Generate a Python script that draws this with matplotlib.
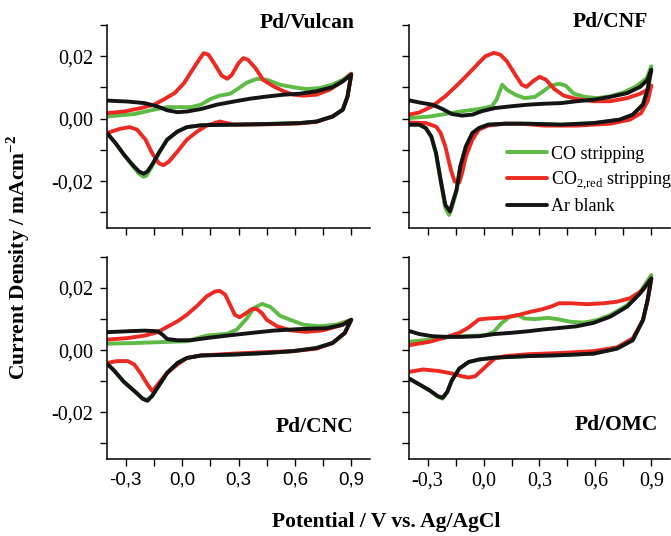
import matplotlib
matplotlib.use("Agg")
import matplotlib.pyplot as plt
from matplotlib.ticker import MultipleLocator, FuncFormatter, NullFormatter

# ---------------- data (E in V vs Ag/AgCl, j in mA cm^-2) ----------------
# Pd/Vulcan
vul_co_E = [-0.40, -0.255, -0.15, -0.08, -0.01, 0.045, 0.10, 0.15, 0.20, 0.255, 0.29, 0.345, 0.40, 0.45, 0.52, 0.59, 0.66, 0.73, 0.80, 0.855, 0.90,
            0.88, 0.855, 0.80, 0.715, 0.625, 0.45, 0.275, 0.10, 0.025, -0.025, -0.08, -0.125, -0.16, -0.19, -0.205, -0.23, -0.265, -0.31, -0.355, -0.40]
vul_co_j = [0.0007, 0.0015, 0.0029, 0.0037, 0.0037, 0.0037, 0.0045, 0.0063, 0.0074, 0.0080, 0.0093, 0.0116, 0.0128, 0.0125, 0.0109, 0.0101, 0.0095, 0.0098, 0.0109, 0.0125, 0.0144,
            0.0071, 0.0029, 0.0007, -0.0009, -0.0014, -0.0017, -0.0019, -0.0021, -0.0027, -0.0041, -0.0067, -0.0112, -0.0152, -0.0182, -0.0186, -0.0176, -0.0150, -0.0115, -0.0078, -0.0046]
vul_co2_E = [-0.40, -0.31, -0.22, -0.15, -0.10, -0.04, 0.01, 0.05, 0.09, 0.115, 0.14, 0.175, 0.21, 0.24, 0.265, 0.30, 0.325, 0.35, 0.39, 0.43, 0.485, 0.54, 0.59, 0.645, 0.715, 0.785, 0.855, 0.90,
             0.88, 0.855, 0.80, 0.715, 0.625, 0.45, 0.275, 0.20, 0.13, 0.08, 0.025, -0.025, -0.07, -0.10, -0.125, -0.16, -0.195, -0.24, -0.28, -0.335, -0.40]
vul_co2_j = [0.0018, 0.0023, 0.0034, 0.0045, 0.0061, 0.0082, 0.0114, 0.0152, 0.0189, 0.0210, 0.0205, 0.0173, 0.0138, 0.0128, 0.0141, 0.0178, 0.0194, 0.0189, 0.0162, 0.0125, 0.0104, 0.0088, 0.0077, 0.0074, 0.0077, 0.0093, 0.0120, 0.0144,
             0.0071, 0.0029, 0.0007, -0.0010, -0.0015, -0.0018, -0.0019, -0.0009, -0.0022, -0.0041, -0.0067, -0.0105, -0.0137, -0.0149, -0.0142, -0.0110, -0.0067, -0.0035, -0.0027, -0.0033, -0.0046]
vul_ar_E = [-0.40, -0.29, -0.20, -0.13, -0.08, -0.025, 0.025, 0.10, 0.185, 0.275, 0.36, 0.45, 0.54, 0.625, 0.715, 0.80, 0.855, 0.90,
            0.88, 0.855, 0.80, 0.715, 0.625, 0.45, 0.275, 0.10, 0.025, -0.025, -0.08, -0.125, -0.16, -0.185, -0.205, -0.23, -0.265, -0.31, -0.355, -0.40]
vul_ar_j = [0.0058, 0.0055, 0.0050, 0.0039, 0.0027, 0.0021, 0.0023, 0.0031, 0.0045, 0.0055, 0.0064, 0.0071, 0.0077, 0.0080, 0.0088, 0.0101, 0.0120, 0.0141,
            0.0071, 0.0029, 0.0007, -0.0009, -0.0014, -0.0017, -0.0019, -0.0021, -0.0027, -0.0041, -0.0067, -0.0110, -0.0147, -0.0169, -0.0176, -0.0169, -0.0147, -0.0115, -0.0078, -0.0046]

# Pd/CNF
cnf_co_E = [-0.40, -0.29, -0.205, -0.115, -0.025, 0.045, 0.07, 0.10, 0.125, 0.17, 0.22, 0.275, 0.32, 0.36, 0.405, 0.44, 0.485, 0.54, 0.61, 0.68, 0.75, 0.82, 0.875, 0.90,
            0.88, 0.855, 0.80, 0.73, 0.59, 0.415, 0.24, 0.115, 0.025, -0.025, -0.06, -0.095, -0.125, -0.145, -0.17, -0.185, -0.205, -0.23, -0.255, -0.28, -0.31, -0.345, -0.40]
cnf_co_j = [0.0002, 0.0007, 0.0015, 0.0024, 0.0031, 0.0040, 0.0061, 0.0109, 0.0093, 0.0077, 0.0066, 0.0070, 0.0088, 0.0106, 0.0112, 0.0106, 0.0080, 0.0070, 0.0066, 0.0072, 0.0084, 0.0104, 0.0130, 0.0168,
            0.0098, 0.0047, 0.0013, -0.0003, -0.0014, -0.0019, -0.0016, -0.0016, -0.0019, -0.0030, -0.0046, -0.0089, -0.0155, -0.0232, -0.0285, -0.0308, -0.0285, -0.0200, -0.0112, -0.0058, -0.0030, -0.0019, -0.0019]
cnf_co2_E = [-0.40, -0.345, -0.275, -0.205, -0.13, -0.06, -0.025, 0.01, 0.055, 0.09, 0.125, 0.17, 0.205, 0.23, 0.265, 0.30, 0.335, 0.38, 0.43, 0.50, 0.59, 0.68, 0.77, 0.84, 0.88, 0.90,
             0.88, 0.845, 0.785, 0.68, 0.50, 0.325, 0.205, 0.115, 0.025, -0.025, -0.06, -0.095, -0.115, -0.13, -0.155, -0.175, -0.205, -0.23, -0.255, -0.31, -0.40]
cnf_co2_j = [0.0013, 0.0020, 0.0040, 0.0072, 0.0114, 0.0157, 0.0179, 0.0200, 0.0211, 0.0205, 0.0184, 0.0141, 0.0109, 0.0102, 0.0120, 0.0134, 0.0125, 0.0095, 0.0074, 0.0063, 0.0056, 0.0056, 0.0066, 0.0080, 0.0093, 0.0106,
             0.0056, 0.0018, -0.0003, -0.0016, -0.0022, -0.0022, -0.0016, -0.0016, -0.0022, -0.0035, -0.0067, -0.0121, -0.0174, -0.0204, -0.0201, -0.0164, -0.0089, -0.0046, -0.0025, -0.0014, -0.0012]
cnf_ar_E = [-0.40, -0.345, -0.275, -0.22, -0.17, -0.115, -0.06, -0.01, 0.06, 0.15, 0.24, 0.325, 0.415, 0.50, 0.59, 0.68, 0.77, 0.84, 0.88, 0.90,
            0.88, 0.855, 0.80, 0.73, 0.59, 0.415, 0.24, 0.115, 0.025, -0.025, -0.06, -0.095, -0.125, -0.145, -0.17, -0.18, -0.205, -0.23, -0.255, -0.28, -0.31, -0.345, -0.40]
cnf_ar_j = [0.0059, 0.0052, 0.0045, 0.0031, 0.0015, 0.0010, 0.0013, 0.0024, 0.0034, 0.0040, 0.0045, 0.0048, 0.0050, 0.0056, 0.0061, 0.0070, 0.0082, 0.0102, 0.0125, 0.0157,
            0.0093, 0.0045, 0.0013, -0.0003, -0.0014, -0.0019, -0.0016, -0.0016, -0.0019, -0.0030, -0.0046, -0.0089, -0.0153, -0.0228, -0.0276, -0.0297, -0.0276, -0.0196, -0.0110, -0.0057, -0.0030, -0.0019, -0.0019]

# Pd/CNC
cnc_co_E = [-0.40, -0.255, -0.115, 0.025, 0.13, 0.24, 0.29, 0.345, 0.38, 0.425, 0.47, 0.52, 0.575, 0.645, 0.73, 0.82, 0.90,
            0.865, 0.80, 0.715, 0.59, 0.45, 0.275, 0.10, 0.025, -0.025, -0.08, -0.125, -0.16, -0.19, -0.21, -0.255, -0.31, -0.36, -0.40]
cnc_co_j = [0.0021, 0.0023, 0.0026, 0.0029, 0.0047, 0.0053, 0.0066, 0.0103, 0.0135, 0.0149, 0.0139, 0.0111, 0.0098, 0.0082, 0.0077, 0.0082, 0.0098,
            0.0055, 0.0023, 0.0007, -0.0003, -0.0009, -0.0014, -0.0017, -0.0025, -0.0041, -0.0073, -0.0115, -0.0148, -0.0160, -0.0157, -0.0131, -0.0102, -0.0067, -0.0043]
cnc_co2_E = [-0.40, -0.29, -0.20, -0.13, -0.08, -0.025, 0.025, 0.08, 0.13, 0.175, 0.20, 0.23, 0.255, 0.28, 0.305, 0.335, 0.37, 0.395, 0.425, 0.45, 0.505, 0.575, 0.66, 0.75, 0.84, 0.90,
             0.865, 0.80, 0.715, 0.59, 0.45, 0.275, 0.10, 0.025, -0.025, -0.08, -0.115, -0.15, -0.16, -0.185, -0.22, -0.255, -0.29, -0.345, -0.40]
cnc_co2_j = [0.0034, 0.0039, 0.0047, 0.0058, 0.0075, 0.0093, 0.0114, 0.0143, 0.0173, 0.0189, 0.0191, 0.0178, 0.0146, 0.0114, 0.0106, 0.0117, 0.0132, 0.0133, 0.0119, 0.0098, 0.0077, 0.0064, 0.0059, 0.0064, 0.0079, 0.0098,
             0.0055, 0.0023, 0.0005, -0.0003, -0.0006, -0.0011, -0.0017, -0.0025, -0.0046, -0.0073, -0.0099, -0.0126, -0.0131, -0.0110, -0.0075, -0.0046, -0.0035, -0.0035, -0.0041]
cnc_ar_E = [-0.40, -0.29, -0.20, -0.13, -0.105, -0.08, -0.025, 0.045, 0.13, 0.24, 0.36, 0.485, 0.625, 0.77, 0.855, 0.90,
            0.865, 0.80, 0.715, 0.59, 0.45, 0.275, 0.10, 0.025, -0.025, -0.08, -0.125, -0.16, -0.185, -0.21, -0.255, -0.31, -0.36, -0.40]
cnc_ar_j = [0.0058, 0.0061, 0.0063, 0.0061, 0.0050, 0.0036, 0.0032, 0.0032, 0.0039, 0.0047, 0.0055, 0.0063, 0.0068, 0.0071, 0.0082, 0.0098,
            0.0055, 0.0023, 0.0007, -0.0003, -0.0009, -0.0014, -0.0017, -0.0025, -0.0041, -0.0073, -0.0115, -0.0147, -0.0163, -0.0156, -0.0131, -0.0102, -0.0067, -0.0043]

# Pd/OMC
omc_co_E = [-0.40, -0.29, -0.205, -0.115, 0.01, 0.055, 0.095, 0.14, 0.185, 0.22, 0.275, 0.345, 0.395, 0.47, 0.54, 0.61, 0.68, 0.77, 0.84, 0.90,
            0.88, 0.855, 0.80, 0.715, 0.59, 0.415, 0.24, 0.06, -0.025, -0.08, -0.13, -0.17, -0.195, -0.22, -0.245, -0.29, -0.345, -0.40]
omc_co_j = [0.0027, 0.0034, 0.0041, 0.0045, 0.0048, 0.0059, 0.0086, 0.0108, 0.0113, 0.0102, 0.0100, 0.0104, 0.0100, 0.0091, 0.0089, 0.0097, 0.0113, 0.0145, 0.0188, 0.0242,
            0.0161, 0.0097, 0.0032, 0.0005, -0.0011, -0.0016, -0.0019, -0.0024, -0.0030, -0.0038, -0.0059, -0.0097, -0.0136, -0.0156, -0.0150, -0.0129, -0.0110, -0.0091]
omc_co2_E = [-0.40, -0.29, -0.205, -0.13, -0.08, -0.025, 0.025, 0.115, 0.185, 0.255, 0.31, 0.36, 0.405, 0.47, 0.555, 0.645, 0.715, 0.785, 0.855, 0.90,
             0.88, 0.855, 0.80, 0.715, 0.59, 0.415, 0.24, 0.115, 0.06, 0.025, -0.01, -0.045, -0.08, -0.115, -0.17, -0.24, -0.325, -0.40]
omc_co2_j = [0.0016, 0.0027, 0.0041, 0.0056, 0.0073, 0.0099, 0.0102, 0.0105, 0.0113, 0.0124, 0.0131, 0.0140, 0.0151, 0.0151, 0.0148, 0.0151, 0.0156, 0.0167, 0.0194, 0.0231,
             0.0161, 0.0097, 0.0038, 0.0009, -0.0003, -0.0009, -0.0013, -0.0019, -0.0027, -0.0045, -0.0065, -0.0084, -0.0088, -0.0084, -0.0075, -0.0067, -0.0062, -0.0070]
omc_ar_E = [-0.40, -0.345, -0.275, -0.205, -0.115, -0.025, 0.06, 0.15, 0.24, 0.325, 0.415, 0.50, 0.59, 0.68, 0.77, 0.84, 0.90,
            0.88, 0.855, 0.80, 0.715, 0.59, 0.415, 0.24, 0.06, -0.025, -0.08, -0.13, -0.17, -0.195, -0.22, -0.245, -0.29, -0.345, -0.40]
omc_ar_j = [0.0062, 0.0052, 0.0045, 0.0043, 0.0043, 0.0045, 0.0052, 0.0056, 0.0061, 0.0067, 0.0072, 0.0077, 0.0088, 0.0108, 0.0140, 0.0183, 0.0231,
            0.0161, 0.0097, 0.0032, 0.0005, -0.0011, -0.0016, -0.0019, -0.0024, -0.0030, -0.0038, -0.0059, -0.0097, -0.0134, -0.0153, -0.0148, -0.0129, -0.0110, -0.0091]

panel_titles = ["Pd/Vulcan", "Pd/CNF", "Pd/CNC", "Pd/OMC"]
series_labels = ["CO stripping", "CO$_{\\mathregular{2{,}red}}$ stripping", "Ar blank"]
series_colors = ["#5dbb46", "#ec2a22", "#141414"]
x_ticks_major = [-0.3, 0.0, 0.3, 0.6, 0.9]

panels = [
    (vul_co_E, vul_co_j, vul_co2_E, vul_co2_j, vul_ar_E, vul_ar_j),
    (cnf_co_E, cnf_co_j, cnf_co2_E, cnf_co2_j, cnf_ar_E, cnf_ar_j),
    (cnc_co_E, cnc_co_j, cnc_co2_E, cnc_co2_j, cnc_ar_E, cnc_ar_j),
    (omc_co_E, omc_co_j, omc_co2_E, omc_co2_j, omc_ar_E, omc_ar_j),
]

# ---------------- figure ----------------
SERIF = "Liberation Serif"
SANS = "Liberation Sans"
plt.rcParams["font.family"] = SERIF
plt.rcParams["mathtext.fontset"] = "custom"
plt.rcParams["mathtext.rm"] = SERIF
plt.rcParams["mathtext.bf"] = SERIF + ":bold"

fig = plt.figure(figsize=(6.71, 5.36), dpi=100)
rects = [
    [0.1595, 0.5746, 0.392, 0.3787],
    [0.6095, 0.5746, 0.389, 0.3787],
    [0.1595, 0.1437, 0.392, 0.3769],
    [0.6095, 0.1437, 0.389, 0.3769],
]
comma = FuncFormatter(lambda v, p: ("%.2f" % v).replace(".", ",").replace("-0,00", "0,00"))
commax = FuncFormatter(lambda v, p: ("%.1f" % v).replace(".", ",").replace("-0,0", "0,0"))

title_pos = [(0.94, 0.985), (0.916, 0.99), (0.935, 0.134), (0.954, 0.144)]

for i, (rect, data) in enumerate(zip(rects, panels)):
    ax = fig.add_axes(rect)
    lines = []
    for k in range(3):
        ln, = ax.plot(data[2 * k], data[2 * k + 1], color=series_colors[k], lw=2.8,
                      solid_joinstyle="round", solid_capstyle="round", label=series_labels[k])
        lines.append(ln)
    ax.set_xlim(-0.4, 1.0)
    ax.set_ylim(-0.035, 0.030)
    for s in ["top", "right"]:
        ax.spines[s].set_visible(False)
    for s in ["left", "bottom"]:
        ax.spines[s].set_linewidth(1.1)
    ax.xaxis.set_minor_locator(MultipleLocator(0.15))
    ax.set_xticks(x_ticks_major)
    ax.yaxis.set_major_locator(MultipleLocator(0.02))
    ax.yaxis.set_minor_locator(MultipleLocator(0.01))
    ax.tick_params(which="both", direction="out", length=5, width=1.0, labelsize=14.5)
    ax.tick_params(axis="y", pad=5)
    ax.tick_params(axis="x", pad=4)
    if i in (0, 2):
        ax.yaxis.set_major_formatter(comma)
    else:
        ax.yaxis.set_major_formatter(NullFormatter())
    if i in (2, 3):
        ax.xaxis.set_major_formatter(commax)
        if i == 2:
            for t in ax.get_xticklabels():
                t.set_fontfamily(SANS)
            ax.tick_params(axis="x", labelsize=13.5)
    else:
        ax.xaxis.set_major_formatter(NullFormatter())
    tx, ty = title_pos[i]
    ax.text(tx, ty, panel_titles[i], transform=ax.transAxes, ha="right", va="baseline",
            fontsize=15.5, fontweight="bold")
    if i == 1:
        ax.legend(handles=lines, loc="upper left", bbox_to_anchor=(0.375, 0.405), frameon=False,
                  fontsize=13, handlelength=2.2, handletextpad=0.25, labelspacing=0.35,
                  borderaxespad=0.0, borderpad=0.0)

fig.text(0.027, 0.52, "Current Density / mAcm$^{\\mathbf{-2}}$", rotation=90, ha="center", va="center",
         fontsize=15.5, fontweight="bold")
fig.text(0.575, 0.026, "Potential / V vs. Ag/AgCl", ha="center", va="center",
         fontsize=15.5, fontweight="bold")

fig.savefig("out.png", dpi=100)
